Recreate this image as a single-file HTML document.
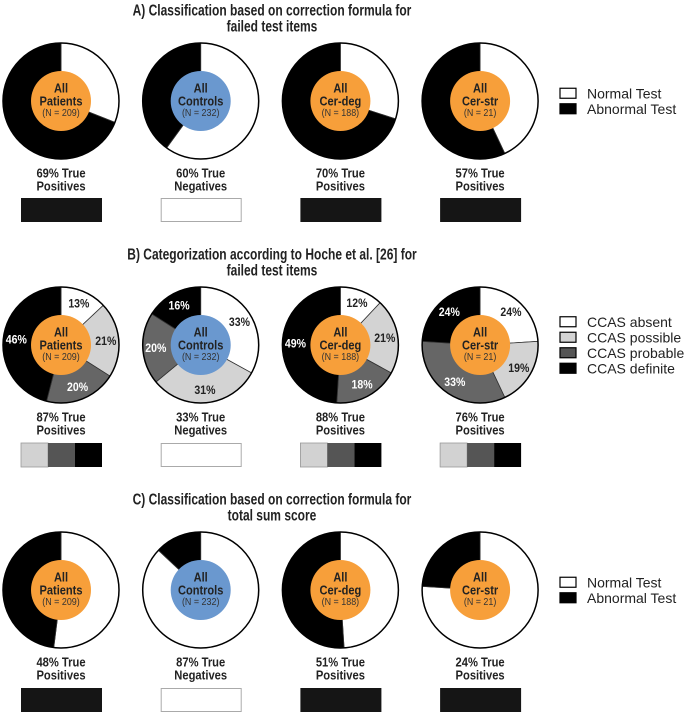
<!DOCTYPE html>
<html><head><meta charset="utf-8"><style>
html,body{margin:0;padding:0;background:#fff}
svg{display:block}
text{font-family:"Liberation Sans",Arial,sans-serif}
</style></head><body>
<svg id="fig" width="685" height="714" viewBox="0 0 685 714" xmlns="http://www.w3.org/2000/svg"></svg>
<script>
// ---- data ----
const groupNames = ["Patients","Controls","Cer-deg","Cer-str"];
const groupN = [209,232,188,21];
const isControl = [false,true,false,false];
const panelANormal = [31,60,30,43];
const panelAAbnormal = [69,40,70,57];
const panelBAbsent = [13,33,12,24];
const panelBPossible = [21,31,21,19];
const panelBProbable = [20,20,18,33];
const panelBDefinite = [46,16,49,24];
const panelCNormal = [52,87,49,76];
const panelCAbnormal = [48,13,51,24];
const rateA = [69,60,70,57];
const rateB = [87,33,88,76];
const rateC = [48,87,51,24];
const titlesA = ["A) Classification based on correction formula for","failed test items"];
const titlesB = ["B) Categorization according to Hoche et al. [26] for","failed test items"];
const titlesC = ["C) Classification based on correction formula for","total sum score"];

const NS="http://www.w3.org/2000/svg";
const svg=document.getElementById('fig');
const colX=i=>61+i*139.7;
const R_OUT=58, R_IN=30;
const COL={white:"#fff",poss:"#d3d3d3",prob:"#666",def:"#000",orange:"#F79F3A",blue:"#6A98CF"};

function el(tag,attrs,parent){const e=document.createElementNS(NS,tag);for(const k in attrs)e.setAttribute(k,attrs[k]);(parent||svg).appendChild(e);return e;}
function txt(s,x,y,size,bold,fill,cond,parent){
  const t=el('text',{x:x,y:y,'font-size':size,'font-weight':bold?'bold':'normal','text-anchor':'middle','dominant-baseline':'central',fill:fill||'#222'},parent);
  t.textContent=s;
  if(cond){const w=t.getComputedTextLength();if(w>0){t.setAttribute('textLength',(w*cond).toFixed(1));t.setAttribute('lengthAdjust','spacingAndGlyphs');}}
  return t;
}
function pt(cx,cy,r,frac){const a=frac*2*Math.PI;return [cx+r*Math.sin(a),cy-r*Math.cos(a)];}
function wedge(cx,cy,f0,f1,fill,g){
  if(f1-f0>=0.9999){return el('circle',{cx:cx,cy:cy,r:R_OUT,fill:fill,stroke:'#222','stroke-width':0.8},g);}
  const p0=pt(cx,cy,R_OUT,f0),p1=pt(cx,cy,R_OUT,f1);
  const large=(f1-f0)>0.5?1:0;
  return el('path',{d:`M${cx},${cy} L${p0[0].toFixed(2)},${p0[1].toFixed(2)} A${R_OUT},${R_OUT} 0 ${large} 1 ${p1[0].toFixed(2)},${p1[1].toFixed(2)} Z`,fill:fill,stroke:'#333','stroke-width':0.8},g);
}
function donut(i,cy,values,fills,labels,panel){
  const cx=colX(i);
  const g=el('g',{});
  
  
  const tot=values.reduce((a,b)=>a+b,0);
  let acc=0;
  values.forEach((v,k)=>{
    const w=wedge(cx,cy,acc/tot,(acc+v)/tot,fills[k],g);
    
    
    acc+=v;
  });
  el('circle',{cx:cx,cy:cy,r:R_OUT,fill:'none',stroke:'#000','stroke-width':1.5},g);
  const c=el('circle',{cx:cx,cy:cy,r:R_IN,fill:isControl[i]?COL.blue:COL.orange},g);
  
  
  txt('All',cx,cy-13,13,true,'#222',0.85,g);
  txt(groupNames[i],cx,cy,13,true,'#222',0.85,g);
  txt('(N = '+groupN[i]+')',cx,cy+12,10.5,false,'#333',0.85,g);
  if(labels){
    acc=0;
    values.forEach((v,k)=>{
      const mid=(acc+v/2)/tot;acc+=v;
      const p=pt(cx,cy,45,mid);
      const t=txt(v+'%',p[0],p[1],12,true,(fills[k]===COL.prob||fills[k]===COL.def)?'#fff':'#222',0.88,g);
      
      
    });
  }
}
function caption(i,cy,rate,panel){
  const cx=colX(i);
  const neg=isControl[i];
  const t1=txt(rate+'% True',cx,cy+72,13,true,'#222',0.86);
  
  
  txt(neg?'Negatives':'Positives',cx,cy+85,13,true,'#222',0.86);
}
function bar(i,y,kind,panel){
  const x=colX(i)-40;
  const g=el('g',{});
  
  
  if(kind==='white'){el('rect',{x:x+0.5,y:y+0.5,width:80,height:23,fill:'#fff',stroke:'#aaa','stroke-width':1},g);}
  else if(kind==='black'){el('rect',{x:x,y:y,width:81,height:24,fill:'#151515'},g);}
  else{
    el('rect',{x:x,y:y,width:27,height:24,fill:'#d2d2d2',stroke:'#999','stroke-width':0.8},g);
    el('rect',{x:x+27,y:y,width:27,height:24,fill:'#555'},g);
    el('rect',{x:x+54,y:y,width:27,height:24,fill:'#000'},g);
  }
}
function title(lines,cy,panel){
  lines.forEach((s,k)=>{
    const t=txt(s,272,cy-90+k*16,16,true,'#222',0.75);
    
    
  });
}
function legend(entries,cy,panel){
  const g=el('g',{});
  
  
  const y0=cy-(entries.length-1)*15.5/2;
  entries.forEach((e,k)=>{
    const y=y0+k*15.5;
    const r=el('rect',{x:560,y:y-5,width:16,height:10,fill:e[1],stroke:'#000','stroke-width':1.2},g);
    
    
    const t=el('text',{x:587,y:y,'font-size':14,'dominant-baseline':'central',fill:'#222'},g);
    t.textContent=e[0];
    
    
  });
}

// Panel A
const cyA=101;
title(titlesA,cyA,'panel-a');
for(let i=0;i<4;i++){
  donut(i,cyA,[panelANormal[i],panelAAbnormal[i]],[COL.white,COL.def],false,'panel-a');
  caption(i,cyA,rateA[i],'panel-a');
  bar(i,198,isControl[i]?'white':'black','panel-a');
}
legend([["Normal Test",'#fff'],["Abnormal Test",'#000']],cyA,'panel-a');

// Panel B
const cyB=345;
title(titlesB,cyB,'panel-b');
for(let i=0;i<4;i++){
  donut(i,cyB,[panelBAbsent[i],panelBPossible[i],panelBProbable[i],panelBDefinite[i]],[COL.white,COL.poss,COL.prob,COL.def],true,'panel-b');
  caption(i,cyB,rateB[i],'panel-b');
  bar(i,443,isControl[i]?'white':'multi','panel-b');
}
legend([["CCAS absent",'#fff'],["CCAS possible",'#d3d3d3'],["CCAS probable",'#555'],["CCAS definite",'#000']],cyB,'panel-b');

// Panel C
const cyC=590;
title(titlesC,cyC,'panel-c');
for(let i=0;i<4;i++){
  donut(i,cyC,[panelCNormal[i],panelCAbnormal[i]],[COL.white,COL.def],false,'panel-c');
  caption(i,cyC,rateC[i],'panel-c');
  bar(i,688,isControl[i]?'white':'black','panel-c');
}
legend([["Normal Test",'#fff'],["Abnormal Test",'#000']],cyC,'panel-c');
</script>
</body></html>
